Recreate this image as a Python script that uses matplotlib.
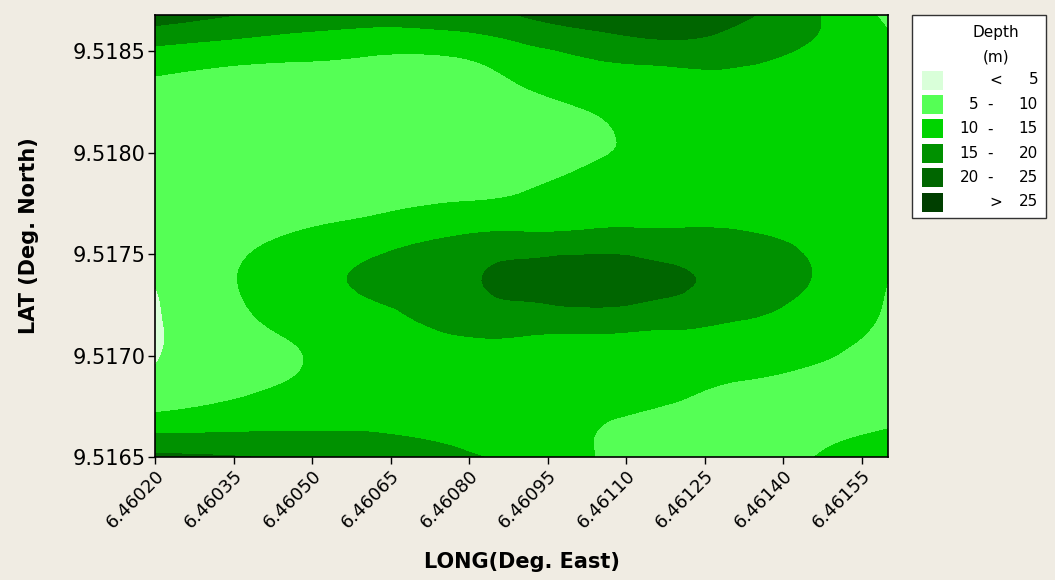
import numpy as np
import matplotlib
matplotlib.use("Agg")
import matplotlib.pyplot as plt
import matplotlib.tri as mtri
from matplotlib.colors import ListedColormap, BoundaryNorm
from matplotlib.patches import Rectangle

# grid of survey points (fraction of the mapped extent) and depths (m)
long_min, long_max = 6.46020, 6.46160
lat_min, lat_max = 9.5165, 9.51868
u_pos = [0.0, 0.1, 0.2, 0.3, 0.4, 0.5, 0.6, 0.7, 0.8, 0.9, 1.0]
v_pos = [0.0, 0.05, 0.1, 0.2, 0.3, 0.4, 0.5, 0.6, 0.7, 0.8, 0.9, 0.95, 1.0]
depth = [
    [21.0, 20.3, 19.0, 17.5, 16.0, 13.5, 10.0, 8.0, 8.0, 10.0, 12.5],   # v=0
    [15.5, 15.5, 15.5, 15.3, 14.0, 12.0, 10.0, 8.5, 8.0, 9.0, 10.5],    # 0.05
    [10.0, 11.5, 12.5, 12.5, 12.0, 11.5, 10.5, 9.5, 8.0, 8.0, 9.0],     # 0.1
    [5.1, 8.0, 10.0, 11.5, 12.5, 13.0, 12.5, 12.0, 11.0, 9.7, 8.0],     # 0.2
    [4.5, 8.5, 11.0, 13.0, 15.8, 16.5, 16.5, 15.8, 14.5, 12.5, 9.3],    # 0.3
    [5.2, 9.5, 13.0, 16.0, 18.5, 21.5, 23.0, 21.0, 18.0, 14.8, 10.0],   # 0.4
    [7.0, 8.5, 10.5, 12.5, 14.8, 15.8, 16.2, 16.0, 15.5, 14.0, 11.5],   # 0.5
    [7.0, 7.0, 7.5, 8.0, 8.8, 9.9, 12.0, 13.0, 13.0, 13.0, 12.0],       # 0.6
    [7.5, 7.0, 6.5, 6.5, 7.0, 8.0, 9.3, 12.0, 13.0, 13.0, 12.5],        # 0.7
    [8.0, 7.5, 7.0, 7.0, 7.0, 9.0, 10.7, 13.0, 13.0, 13.0, 12.5],       # 0.8
    [12.5, 11.0, 10.3, 9.5, 9.5, 12.5, 15.0, 16.0, 15.8, 13.5, 12.0],   # 0.9
    [17.0, 15.5, 14.0, 13.0, 13.5, 16.0, 18.5, 20.5, 18.5, 15.0, 10.5], # 0.95
    [23.0, 20.2, 18.5, 17.5, 18.0, 20.2, 24.0, 23.5, 20.8, 15.5, 9.0],  # 1.0
]
levels = [0, 5, 10, 15, 20, 25, 30]
range_low = ["", "5", "10", "15", "20", ""]
range_sep = ["<", "-", "-", "-", "-", ">"]
range_high = ["5", "10", "15", "20", "25", "25"]
colors = ["#d9ffd9", "#55ff55", "#00d400", "#009100", "#006600", "#003f00"]

uu, vv = np.meshgrid(u_pos, v_pos)
z = np.array(depth)

tri = mtri.Triangulation(uu.ravel(), vv.ravel())
refiner = mtri.UniformTriRefiner(tri)
tri_f, z_f = refiner.refine_field(z.ravel(), subdiv=4)
tri_f = mtri.Triangulation(long_min + tri_f.x * (long_max - long_min),
                           lat_min + tri_f.y * (lat_max - lat_min), tri_f.triangles)

bg = "#f0ece3"
fig = plt.figure(figsize=(10.55, 5.8), dpi=100, facecolor=bg)
ax = fig.add_axes([155 / 1055, 123 / 580, 733 / 1055, 442 / 580])
cmap = ListedColormap(colors)
norm = BoundaryNorm(levels, cmap.N)
ax.tricontourf(tri_f, np.clip(z_f, 0.1, 29.9), levels=levels, cmap=cmap, norm=norm)
ax.set_xlim(long_min, long_max)
ax.set_ylim(lat_min, lat_max)

xt = np.arange(6.46020, 6.46156, 0.00015)
ax.set_xticks(xt)
ax.set_xticklabels([f"{t:.5f}" for t in xt], rotation=45, ha="right",
                   rotation_mode="anchor", fontsize=13)
yt = np.arange(9.5165, 9.51851, 0.0005)
ax.set_yticks(yt)
ax.set_yticklabels([f"{t:.4f}" for t in yt], fontsize=15)
ax.tick_params(direction="out", length=5, width=1, pad=2)
for s in ax.spines.values():
    s.set_linewidth(1.2)
ax.set_xlabel("LONG(Deg. East)", fontsize=15, fontweight="bold")
ax.set_ylabel("LAT (Deg. North)", fontsize=15, fontweight="bold")
ax.xaxis.set_label_coords(0.5, -0.215)
ax.yaxis.set_label_coords(-0.158, 0.5)

# legend box, drawn in pixel coordinates
lax = fig.add_axes([0, 0, 1, 1], facecolor="none")
lax.set_xlim(0, 1055)
lax.set_ylim(580, 0)
lax.axis("off")
lax.add_patch(Rectangle((912, 15), 134, 203, facecolor="white", edgecolor="#333333", lw=1.0))
lax.text(996, 32, "Depth", ha="center", va="center", fontsize=11)
lax.text(996, 57, "(m)", ha="center", va="center", fontsize=11)
for i, c in enumerate(colors):
    yc = 80 + i * 24.4
    lax.add_patch(Rectangle((922, yc - 9.5), 21, 19, facecolor=c, edgecolor="none"))
    lax.text(979, yc, range_low[i], ha="right", va="center", fontsize=11)
    lax.text(996 if range_sep[i] != "-" else 990, yc, range_sep[i], ha="center",
             va="center", fontsize=11)
    lax.text(1038, yc, range_high[i], ha="right", va="center", fontsize=11)

fig.savefig("out.png", dpi=100, facecolor=bg)
